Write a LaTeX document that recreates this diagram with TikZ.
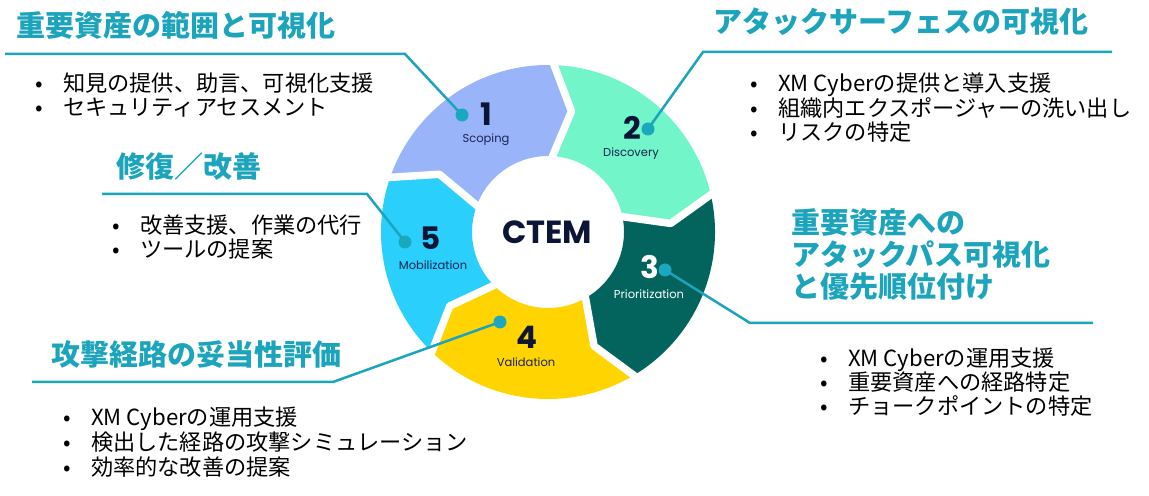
\documentclass[tikz,border=0pt]{standalone}
\usepackage{fontspec}
\newfontfamily\jpfont{Noto Sans CJK JP}
\newfontfamily\popfont{Poppins}
\definecolor{segblue}{HTML}{9AB4FA}
\definecolor{segmint}{HTML}{72F5C9}
\definecolor{segdark}{HTML}{03645E}
\definecolor{segyel}{HTML}{FFD400}
\definecolor{segcyan}{HTML}{2BCFFB}
\definecolor{tealc}{HTML}{1BA4BC}
\definecolor{dotc}{HTML}{1AA8BE}
\definecolor{navyc}{HTML}{0D1536}
\definecolor{navyl}{HTML}{1B2450}
\def\rOut{167}
\def\rIn{76}
\def\rMid{123}
\def\dOff{10}
\newcommand\ctseg[3]{%
  \fill[#3] (#1:\rOut) arc[start angle=#1, end angle=#2, radius=\rOut]
    -- ({#2-\dOff}:\rMid) -- (#2:\rIn)
    arc[start angle=#2, end angle=#1, radius=\rIn]
    -- ({#1-\dOff}:\rMid) -- cycle;}
\newcommand\ctgap[1]{%
  \draw[white, line width=7.5bp, line join=round, line cap=round]
    (#1:{\rOut+8}) -- ({#1-\dOff}:\rMid) -- (#1:{\rIn-8});}
\newcommand\myb[1]{\makebox[28bp][l]{•}#1}
\tikzset{
  ttl/.style={font=\jpfont\bfseries\fontsize{29bp}{32bp}\selectfont, text=tealc, anchor=west, inner sep=0, align=left},
  lst/.style={font=\jpfont\fontsize{22.2bp}{24bp}\selectfont, text=black, anchor=west, inner sep=0, align=left},
  conn/.style={draw=tealc, line width=2.5bp},
  dot/.style={circle, fill=dotc, minimum size=13bp, inner sep=0},
  num/.style={font=\popfont\bfseries\fontsize{31bp}{31bp}\selectfont, text=navyc, inner sep=0},
  lbl/.style={font=\popfont\fontsize{11.5bp}{12bp}\selectfont, text=navyl, inner sep=0},
}
\begin{document}
\begin{tikzpicture}[x=1bp,y=-1bp]
\useasboundingbox (0,0) rectangle (1149,496);
\fill[white] (0,0) rectangle (1149,496);
% ring
\begin{scope}[shift={(548,232)}, yscale=-1]
  \ctseg{162}{89}{segblue}
  \ctseg{89}{14}{segmint}
  \ctseg{14}{-58}{segdark}
  \ctseg{-58}{-133}{segyel}
  \ctseg{227}{162}{segcyan}
  \ctgap{162}
  \ctgap{89}
  \ctgap{14}
  \ctgap{-58}
  \ctgap{-133}
\end{scope}
\node[font=\popfont\bfseries\fontsize{32bp}{32bp}\selectfont, text=navyc, inner sep=0] (ctem) at (547,232) {CTEM};
% segment labels
\node[num] (n1) at (486,114) {1};
\node[lbl] (l1) at (486,140) {Scoping};
\node[num] (n2) at (632,128) {2};
\node[lbl] (l2) at (631,154) {Discovery};
\node[num, text=white] (n3) at (650,267) {3};
\node[lbl, text=white] (l3) at (649,294) {Prioritization};
\node[num] (n4) at (527,337) {4};
\node[lbl] (l4) at (526,362) {Validation};
\node[num] (n5) at (431,238) {5};
\node[lbl] (l5) at (433,265) {Mobilization};
% connectors
\coordinate (p1) at (462,115);
\coordinate (k1) at (405,54);
\coordinate (e1) at (5,54);
\coordinate (p2) at (648,129);
\coordinate (k2) at (703,52);
\coordinate (e2) at (1112,52);
\coordinate (p3) at (665,270);
\coordinate (k3) at (750,323);
\coordinate (e3) at (1093,323);
\coordinate (p4) at (500,322);
\coordinate (k4) at (333,382);
\coordinate (e4) at (32,382);
\coordinate (p5) at (405,242);
\coordinate (k5) at (367,194);
\coordinate (e5) at (102,194);
\draw[conn] (e1) -- (k1) -- (p1);
\draw[conn] (e2) -- (k2) -- (p2);
\draw[conn] (e3) -- (k3) -- (p3);
\draw[conn] (e4) -- (k4) -- (p4);
\draw[conn] (e5) -- (k5) -- (p5);
\node[dot] (d1) at (p1) {};
\node[dot] (d2) at (p2) {};
\node[dot] (d3) at (p3) {};
\node[dot] (d4) at (p4) {};
\node[dot] (d5) at (p5) {};
% titles
\node[ttl] (t1) at (16,25) {重要資産の範囲と可視化};
\node[ttl] (t2) at (713,22) {アタックサーフェスの可視化};
\node[ttl] (t3) at (791,255) {重要資産への\\アタックパス可視化\\と優先順位付け};
\node[ttl] (t5) at (116,167) {修復／改善};
\node[ttl] (t4) at (51,355) {攻撃経路の妥当性評価};
% lists
\node[lst] (s1) at (35,95) {\myb{知見の提供、助言、可視化支援}\\\myb{セキュリティアセスメント}};
\node[lst] (s2) at (750,108) {\myb{XM Cyberの提供と導入支援}\\\myb{組織内エクスポージャーの洗い出し}\\\myb{リスクの特定}};
\node[lst] (s3) at (820,382) {\myb{XM Cyberの運用支援}\\\myb{重要資産への経路特定}\\\myb{チョークポイントの特定}};
\node[lst] (s5) at (112,237) {\myb{改善支援、作業の代行}\\\myb{ツールの提案}};
\node[lst, font=\jpfont\fontsize{22.2bp}{25bp}\selectfont] (s4) at (63,442) {\myb{XM Cyberの運用支援}\\\myb{検出した経路の攻撃シミュレーション}\\\myb{効率的な改善の提案}};
\end{tikzpicture}
\end{document}
